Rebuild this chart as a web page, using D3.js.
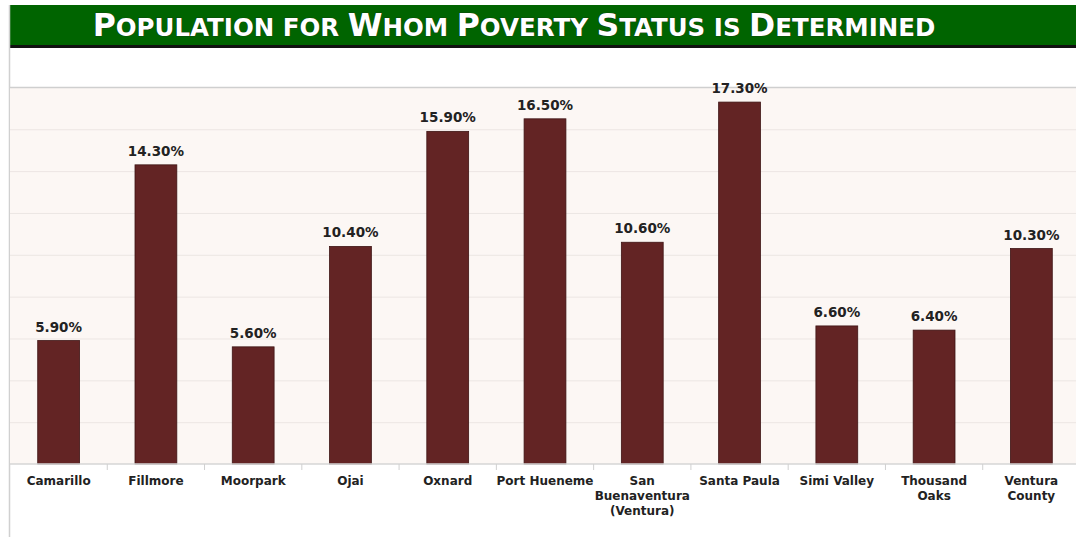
<!DOCTYPE html>
<html>
<head>
<meta charset="utf-8">
<script src="https://cdn.jsdelivr.net/npm/d3@7"></script>
<style>
  body { margin: 0; background: #fff; }
</style>
</head>
<body>
<div id="chart"></div>
<script>
var categories = ["Camarillo", "Fillmore", "Moorpark", "Ojai", "Oxnard", "Port Hueneme",
    "San Buenaventura (Ventura)", "Santa Paula", "Simi Valley", "Thousand Oaks", "Ventura County"];
var labelLines = [["Camarillo"], ["Fillmore"], ["Moorpark"], ["Ojai"], ["Oxnard"], ["Port Hueneme"],
    ["San", "Buenaventura", "(Ventura)"], ["Santa Paula"], ["Simi Valley"], ["Thousand", "Oaks"], ["Ventura", "County"]];
var values = [5.9, 14.3, 5.6, 10.4, 15.9, 16.5, 10.6, 17.3, 6.6, 6.4, 10.3];
var gridTicks = [2, 4, 6, 8, 10, 12, 14, 16, 18];
var titleText = "Population for Whom Poverty Status is Determined";

var W = 1076, H = 537;
var plot = {left: 10, right: 1080, top: 88, bottom: 464};

var svg = d3.select("#chart").append("svg")
    .attr("width", W)
    .attr("height", H);

// title bar
svg.append("rect").attr("x", 10).attr("y", 5).attr("width", W - 10).attr("height", 40).attr("fill", "#006400");
svg.append("rect").attr("x", 10).attr("y", 45).attr("width", W - 10).attr("height", 3).attr("fill", "#111");

// small caps done by hand: capitals big, lowercase as smaller capitals
var title = svg.append("text")
    .attr("x", 514)
    .attr("y", 36)
    .attr("text-anchor", "middle")
    .style("font-family", "DejaVu Sans, Verdana, sans-serif")
    .style("font-weight", "bold")
    .style("fill", "#fff")
    .style("stroke", "#1a2a1a")
    .style("stroke-width", "0.7px")
    .style("paint-order", "stroke");
titleText.split(" ").forEach(function(word, i) {
    var chars = (i > 0 ? " " : "") + word;
    var runs = [];
    for (var k = 0; k < chars.length; k++) {
        var c = chars[k];
        var big = c !== " " && c === c.toUpperCase();
        if (runs.length && runs[runs.length - 1].big === big) runs[runs.length - 1].s += c;
        else runs.push({big: big, s: c});
    }
    runs.forEach(function(r) {
        title.append("tspan")
            .style("font-size", r.big ? "31.5px" : "24.5px")
            .text(r.s.toUpperCase());
    });
});

// left border
svg.append("line").attr("x1", 9.5).attr("x2", 9.5).attr("y1", 5).attr("y2", H)
    .attr("stroke", "#d0d0d0").attr("stroke-width", 1.5);

var x = d3.scaleBand()
    .domain(categories)
    .range([plot.left, plot.right])
    .paddingInner(0.57)
    .paddingOuter(0.285);

var y = d3.scaleLinear()
    .domain([0, 18])
    .range([plot.bottom, plot.bottom - 18 * 20.92]);

// plot background
svg.append("rect")
    .attr("x", plot.left).attr("y", y(18))
    .attr("width", W - plot.left).attr("height", plot.bottom - y(18))
    .attr("fill", "#fcf7f4");

svg.append("line").attr("x1", plot.left).attr("x2", W).attr("y1", y(18)).attr("y2", y(18))
    .attr("stroke", "#cfcfcf").attr("stroke-width", 1.5);

// gridlines
svg.append("g")
    .attr("transform", "translate(" + plot.left + ",0)")
    .call(d3.axisLeft(y).tickValues(gridTicks.slice(0, -1)).tickSize(-(W - plot.left)).tickFormat(""))
    .call(function(g) { g.select(".domain").remove(); })
    .selectAll("line").attr("stroke", "#ece6e3");

// bars
svg.append("g")
    .selectAll("rect")
    .data(values)
    .enter().append("rect")
    .attr("x", function(d, i) { return x(categories[i]); })
    .attr("y", function(d) { return y(d); })
    .attr("width", x.bandwidth())
    .attr("height", function(d) { return y(0) - y(d); })
    .attr("fill", "#632424")
    .attr("stroke", "#3e1414")
    .attr("stroke-width", 0.8);

// value labels
svg.append("g")
    .selectAll("text")
    .data(values)
    .enter().append("text")
    .attr("x", function(d, i) { return x(categories[i]) + x.bandwidth() / 2; })
    .attr("y", function(d) { return y(d) - 9; })
    .attr("text-anchor", "middle")
    .style("font-family", "DejaVu Sans, Verdana, sans-serif")
    .style("font-weight", "bold")
    .style("font-size", "13.5px")
    .style("fill", "#222")
    .text(function(d) { return d.toFixed(2) + "%"; });

// baseline + separators
svg.append("line").attr("x1", plot.left).attr("x2", W).attr("y1", plot.bottom).attr("y2", plot.bottom)
    .attr("stroke", "#d6d6d6").attr("stroke-width", 1.5);
svg.append("g")
    .selectAll("line")
    .data(categories.slice(1))
    .enter().append("line")
    .attr("x1", function(d) { return x(d) - x.step() * x.paddingInner() / 2; })
    .attr("x2", function(d) { return x(d) - x.step() * x.paddingInner() / 2; })
    .attr("y1", plot.bottom).attr("y2", plot.bottom + 6)
    .attr("stroke", "#d0d0d0");

// category labels
var cat = svg.append("g")
    .selectAll("text")
    .data(categories)
    .enter().append("text")
    .attr("x", function(d) { return x(d) + x.bandwidth() / 2; })
    .attr("y", 485)
    .attr("text-anchor", "middle")
    .style("font-family", "DejaVu Sans, Verdana, sans-serif")
    .style("font-weight", "bold")
    .style("font-size", "12px")
    .style("fill", "#222");
cat.each(function(d, i) {
    var t = d3.select(this);
    labelLines[i].forEach(function(line, j) {
        t.append("tspan").attr("x", t.attr("x")).attr("dy", j === 0 ? 0 : 15).text(line);
    });
});
</script>
</body>
</html>
